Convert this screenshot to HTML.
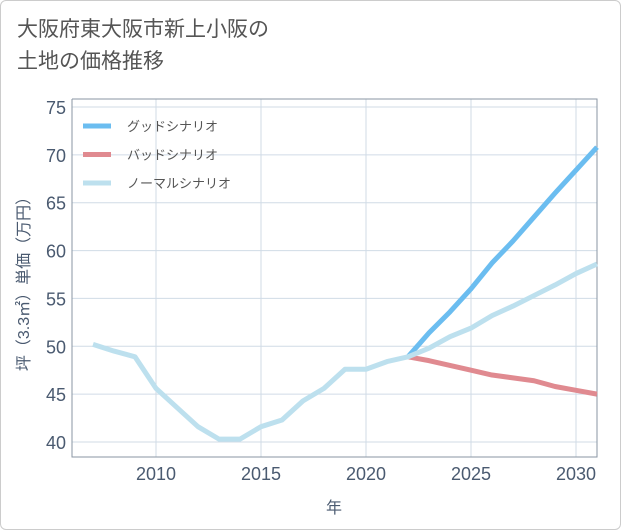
<!DOCTYPE html>
<html><head><meta charset="utf-8"><style>
body{margin:0;background:#fff;font-family:"Liberation Sans","Noto Sans CJK JP",sans-serif;}
#frame{position:absolute;left:0;top:0;width:619px;height:528px;border:1px solid #ccc;border-radius:6px;}
#title{position:absolute;left:17px;top:14px;font-size:21px;line-height:32px;color:#555;}
svg{position:absolute;left:0;top:0;}
</style></head><body>
<div id="frame"></div>
<div id="title">大阪府東大阪市新上小阪の<br>土地の価格推移</div>
<svg id="chart" width="621" height="530"></svg>
<script>
const years=[2007,2008,2009,2010,2011,2012,2013,2014,2015,2016,2017,2018,2019,2020,2021,2022,2023,2024,2025,2026,2027,2028,2029,2030,2031];
const normal=[50.2,49.5,48.9,45.6,43.6,41.6,40.3,40.3,41.6,42.3,44.3,45.6,47.6,47.6,48.4,48.9,49.8,51.0,51.9,53.2,54.2,55.3,56.4,57.6,58.6];
const futureYears=[2022,2023,2024,2025,2026,2027,2028,2029,2030,2031];
const good=[48.9,51.4,53.6,56.0,58.7,61.0,63.5,66.0,68.4,70.8];
const bad=[48.9,48.5,48.0,47.5,47.0,46.7,46.4,45.8,45.4,45.0];
const xTicks=[2010,2015,2020,2025,2030];
const yTicks=[40,45,50,55,60,65,70,75];
const L=72,R=597,T=99,B=457;
const X=y=>156+(y-2010)*21;
const Y=v=>442-(v-40)*335/35;
const NS='http://www.w3.org/2000/svg';
const svg=document.getElementById('chart');
function mk(tag,attrs){const e=document.createElementNS(NS,tag);for(const k in attrs)e.setAttribute(k,attrs[k]);svg.appendChild(e);return e;}
yTicks.forEach(v=>{
 const g=mk('line',{x1:L,x2:R,y1:Y(v),y2:Y(v),stroke:'#d0dbe6','stroke-width':1});
 
 
 const t=mk('text',{x:66,y:Y(v)+7,'text-anchor':'end','font-size':18,fill:'#4a5a70'});
 t.textContent=v;
 
 
});
xTicks.forEach(v=>{
 const g=mk('line',{x1:X(v),x2:X(v),y1:T,y2:B,stroke:'#d0dbe6','stroke-width':1});
 
 
 const t=mk('text',{x:X(v),y:480,'text-anchor':'middle','font-size':18,fill:'#4a5a70'});
 t.textContent=v;
 
 
});
const ax=mk('path',{d:`M${L} ${T}V${B}H${R}V${T}H${L}`,fill:'none',stroke:'#8a96a3','stroke-width':1});


function line(xs,vs,color,name){
 const p=mk('polyline',{points:xs.map((y,i)=>X(y)+','+Y(vs[i])).join(' '),fill:'none',stroke:color,'stroke-width':5,'stroke-linejoin':'round'});
 
 
}
const cp=mk('clipPath',{id:'c'});const cr=document.createElementNS(NS,'rect');
cr.setAttribute('x',L);cr.setAttribute('y',T);cr.setAttribute('width',R-L);cr.setAttribute('height',B-T);cp.appendChild(cr);
line(futureYears,bad,'#e08a90','bad-scenario-line');
line(futureYears,good,'#6bbdf0','good-scenario-line');
line(years,normal,'#bde0ee','normal-scenario-line');
const leg=[['グッドシナリオ','#6bbdf0'],['バッドシナリオ','#e08a90'],['ノーマルシナリオ','#bde0ee']];
leg.forEach((l,i)=>{
 const y=126+i*28.5;
 const s=mk('line',{x1:83,x2:111,y1:y,y2:y,stroke:l[1],'stroke-width':5});
 
 
 const t=mk('text',{x:127,y:y+5,'font-size':13,fill:'#555'});
 t.textContent=l[0];
 
 
});
const xt=mk('text',{x:334,y:513,'text-anchor':'middle','font-size':16,fill:'#4a5a70'});
xt.textContent='年';


const yt=mk('text',{x:0,y:0,'text-anchor':'middle','font-size':16,fill:'#4a5a70',transform:'translate(29,280) rotate(-90)'});
yt.textContent='坪（3.3㎡）単価（万円）';


</script>
</body></html>
